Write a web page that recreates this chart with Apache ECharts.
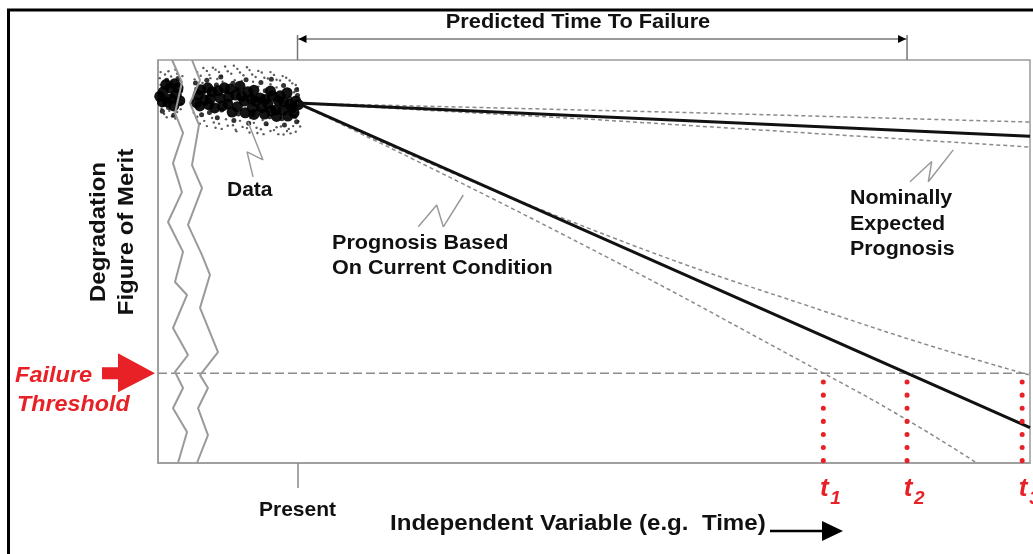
<!DOCTYPE html>
<html><head><meta charset="utf-8">
<script src="https://cdn.jsdelivr.net/npm/echarts@6/dist/echarts.min.js"></script>
<style>html,body{margin:0;padding:0;background:#fff}#c{width:1033px;height:554px}</style>
</head><body><div id="c"></div>
<script>
// ---- data (arbitrary units: x = time 0..100, y = figure of merit 0..100) ----
const presentX = 16;
const thresholdY = 22.3;
const failureTimes = [76.3, 85.9, 99.1];
const failureSubs = ['1', '2', '3'];
const dotTopY = 20.1;

const nominalLine  = [[16, 89.3], [100, 81.1]];
const nominalUpper = [[16, 89.3], [60, 87.0], [100, 84.6]];
const nominalLower = [[16, 89.3], [49.5, 85.3], [100, 78.4]];
const prognosisLine  = [[16, 89.3], [100, 8.8]];
const prognosisUpper = [[16, 89.3], [46.1, 61.0], [80.5, 34.7], [100, 21.8]];
const prognosisLower = [[16, 89.3], [46.1, 57.1], [76.3, 22.3], [85.9, 10.7], [93.9, 0]];
const thresholdLine = [[0, thresholdY], [100, thresholdY]];

const dataCore = [[0.6,92.1],[1.4,93.1],[2.1,91.4],[1.1,89.6],[1.8,88.6],[0.5,89.6],[2.3,93.1],
  [0.2,91.0],[1.5,90.4],[2.5,89.9],[0.9,93.9],[1.9,94.1],
  [4.6,91.3],[5.4,90.1],[6.2,92.1],[7.1,90.6],[8.0,89.1],[8.9,91.3],[9.9,89.8],[10.8,88.1],
  [11.7,90.6],[12.6,89.1],[13.5,87.6],[14.4,89.6],[15.4,88.1],[4.8,88.6],[6.5,88.1],[8.5,87.1],
  [10.3,92.1],[12.2,86.6],[14.0,91.1],[14.9,86.1],[15.8,89.8],[5.7,93.1],[7.6,93.1],[9.4,93.5],
  [11.2,89.8],[13.1,91.1],[4.4,89.4],
  [4.9,92.6],[6.9,92.4],[8.3,92.8],[11.0,92.5],[12.9,92.3],[14.8,91.9],
  [6.0,90.4],[8.1,90.9],[9.6,91.0],[10.7,90.3],[12.3,90.2],[13.8,89.9],[15.1,89.0],[16.1,88.9],
  [5.8,88.9],[7.4,88.6],[9.1,88.4],[11.9,88.2],[13.0,87.4],[14.3,87.5],
  [10.0,86.9],[11.0,86.5],[15.6,86.9],[13.6,86.0]];
const dataMid = [[4.4,92.3],[5.2,91.9],[6.7,93.8],[7.9,92.2],[9.1,92.6],[10.8,91.0],[12.3,92.4],
  [13.7,90.0],[15.1,90.5],[16.0,91.2],[5.9,87.0],[7.3,87.6],[9.2,86.6],[10.9,86.4],[12.8,85.9],
  [14.2,85.4],[15.7,86.0],[11.5,87.9],[13.2,88.0],[0.3,91.4],[1.6,91.2],[2.6,92.4],[1.2,88.2],
  [4.3,94.3],[5.6,95.0],[7.2,95.8],[8.6,94.2],[10.1,95.1],[11.8,94.4],[13.0,95.2],[14.4,93.7],
  [15.9,92.6],[5.0,86.4],[6.8,85.7],[8.7,85.0],[10.4,84.3],[12.4,84.2],[14.5,83.9],[15.9,84.7],
  [1.0,95.0],[2.3,95.4],[0.5,87.3],[1.8,86.3]];
const dataSparse = [[0.2,95.5],[0.8,96.4],[1.5,95.9],[2.2,96.6],[2.6,94.8],[0.3,93.8],[1.9,92.2],
  [0.9,90.8],[2.5,90.2],[0.4,87.9],[1.3,87.4],[2.2,87.1],[1.6,94.5],[0.6,88.9],[2.7,89.1],[1.0,85.8],[2.0,85.5],
  [4.2,95.2],[4.9,96.1],[5.6,97.3],[6.3,98.1],[7.0,97.0],[7.7,98.4],[8.4,96.6],[9.1,97.8],[9.8,96.2],
  [10.5,97.5],[11.2,95.8],[11.9,96.9],[12.6,95.4],[13.3,96.3],[14.0,94.9],[14.7,95.6],[15.4,94.2],
  [16.0,93.0],[6.8,95.3],[8.8,95.0],[10.9,94.6],[12.9,94.0],[15.0,92.7],
  [4.3,93.0],[5.1,94.3],[6.0,95.5],[7.4,94.6],[9.6,94.8],[11.5,93.4],[13.6,93.2],[15.6,92.0],
  [4.1,86.9],[16.2,88.7],[16.0,86.8],[3.9,89.9],
  [4.5,85.9],[5.3,84.9],[6.2,85.6],[7.0,84.2],[7.8,85.3],[8.6,83.8],[9.4,84.9],[10.2,83.1],
  [11.0,84.4],[11.8,82.8],[12.5,83.9],[13.3,82.6],[14.1,83.5],[14.8,82.4],[15.5,83.6],[16.1,84.8],
  [6.6,83.2],[9.0,82.3],[11.4,81.9],[13.8,81.6],[15.2,81.8],[10.6,85.6],[12.0,85.1],[8.2,86.2],
  [4.5,97.0],[5.2,98.0],[5.9,96.3],[6.6,97.6],[7.3,96.1],[8.0,97.2],[8.7,98.6],[9.4,96.9],[10.2,98.2],
  [10.8,96.4],[11.5,97.3],[12.2,95.6],[12.9,97.0],[13.6,95.1],[14.3,96.0],[15.1,94.9],[15.8,93.8],
  [4.8,84.2],[5.6,83.6],[6.4,84.5],[7.3,82.9],[8.0,83.7],[8.9,82.7],[9.7,83.4],[10.5,82.0],[11.3,83.2],
  [12.1,81.6],[12.9,82.4],[13.6,83.3],[14.4,81.5],[15.0,82.9],[15.8,82.2],[16.3,83.5],
  [0.3,97.0],[1.2,97.2],[2.0,97.6],[2.8,96.0],[0.7,86.6],[1.6,86.0],[2.6,87.8]];

const zigLeft = [[1.61,100],[2.75,94.5],[1.95,86.8],[2.87,81.9],[1.72,74.4],[2.75,67.2],[1.15,59.8],
  [2.87,52.4],[1.95,44.9],[3.33,41.7],[1.72,33.5],[3.44,26.8],[1.95,22.6],[2.87,18.6],[1.72,13.6],[3.33,7.7],[2.29,0]];
const zigRight = [[3.90,100],[4.82,95.0],[3.67,89.3],[4.70,83.9],[3.90,73.9],[5.05,68.2],[3.44,59.1],
  [5.05,51.6],[5.96,46.7],[4.82,38.5],[6.88,27.5],[4.82,21.8],[5.73,18.6],[4.59,13.6],[5.73,6.9],[4.47,0]];

const leaderData = [[10.32,84.6],[12.04,75.2],[10.21,77.2],[10.9,71.0]];
const leaderPrognosis = [[29.85,58.6],[31.96,64.0],[32.72,58.6],[35.01,66.5]];
const leaderNominal = [[86.24,69.8],[88.73,74.8],[88.34,69.8],[91.2,77.7]];

const FONT = '"Liberation Sans", Arial, sans-serif';
const RED = '#e82127';
const GRAY = '#9a9a9a';

function lineSeries(data, color, width, type, smooth, z) {
  return { type: 'line', data: data, symbol: 'none', smooth: !!smooth, silent: true, z: z || 3,
    lineStyle: { color: color, width: width, type: type || 'solid' } };
}

const series = [
  { type: 'scatter', data: dataSparse, symbolSize: 2.4, itemStyle: { color: '#333' }, silent: true, z: 2 },
  { type: 'scatter', data: dataMid, symbolSize: 5, itemStyle: { color: '#111', opacity: 0.85 }, silent: true, z: 2 },
  { type: 'scatter', data: dataCore, symbolSize: 11, itemStyle: { color: '#000', opacity: 0.92 }, silent: true, z: 2 },
  lineSeries(thresholdLine, '#8c8c8c', 1.5, [9, 4]),
  lineSeries(nominalUpper, '#8a8a8a', 1.5, [4, 3]),
  lineSeries(nominalLower, '#8a8a8a', 1.5, [4, 3]),
  lineSeries(prognosisUpper, '#8a8a8a', 1.5, [4, 3], true),
  lineSeries(prognosisLower, '#8a8a8a', 1.5, [4, 3], true),
  lineSeries(nominalLine, '#111', 3),
  lineSeries(prognosisLine, '#111', 3),
  lineSeries(zigLeft, GRAY, 2, 'solid', false, 4),
  lineSeries(zigRight, GRAY, 2, 'solid', false, 4),
  lineSeries(leaderData, GRAY, 1.5),
  lineSeries(leaderPrognosis, GRAY, 1.5),
  lineSeries(leaderNominal, GRAY, 1.5)
];
failureTimes.forEach(function (t) {
  series.push({ type: 'line', data: [[t, dotTopY], [t, 0]], symbol: 'none', silent: true, z: 5,
    lineStyle: { color: RED, width: 5, type: [0.1, 13], cap: 'round' } });
});

const option = {
  animation: false,
  backgroundColor: '#fff',
  grid: { left: 158, right: 3, top: 60, bottom: 91, show: true, borderColor: GRAY, borderWidth: 1.5 },
  xAxis: {
    type: 'value', min: 0, max: 100,
    axisLine: { show: true, onZero: false, lineStyle: { color: GRAY, width: 1.5 } },
    axisTick: { show: true, customValues: [presentX], length: 25, lineStyle: { color: '#888', width: 1.5 } },
    axisLabel: { show: true, customValues: [presentX], formatter: function (v) { return v === presentX ? 'Present' : ''; },
      margin: 37, fontSize: 21, fontWeight: 'bold', color: '#111', fontFamily: FONT },
    splitLine: { show: false }
  },
  yAxis: {
    type: 'value', min: 0, max: 100,
    axisLine: { show: true, lineStyle: { color: GRAY, width: 1.5 } },
    axisTick: { show: false }, axisLabel: { show: false }, splitLine: { show: false }
  },
  series: series
};

const chart = echarts.init(document.getElementById('c'));
chart.setOption(option);

const px = function (p) { return chart.convertToPixel({ gridIndex: 0 }, p); };
const pPresent = px([presentX, 100]);
const pT2 = px([failureTimes[1], 100]);
const pThr = px([0, thresholdY]);
const bracketY = 39;

function txt(text, x, y, font, color, align, sx, rot) {
  return { type: 'text', silent: true, z: 10, x: x, y: y, scaleX: sx || 1, rotation: rot || 0,
    style: { text: text, x: 0, y: 0, font: font, fill: color || '#111',
      textAlign: align || 'left', textVerticalAlign: 'middle' } };
}
const B20 = 'bold 20px ' + FONT;
const B22 = 'bold 22px ' + FONT;
const RB22 = 'italic bold 22px ' + FONT;
const S = 1.08;

const graphic = [
  { type: 'rect', silent: true, shape: { x: 8.5, y: 10, width: 1040, height: 560 },
    style: { fill: 'none', stroke: '#000', lineWidth: 3 } },
  // bracket
  { type: 'line', silent: true, shape: { x1: pPresent[0], y1: bracketY, x2: pT2[0], y2: bracketY }, style: { stroke: '#777', lineWidth: 1.5 } },
  { type: 'line', silent: true, shape: { x1: pPresent[0], y1: 35, x2: pPresent[0], y2: pPresent[1] }, style: { stroke: '#777', lineWidth: 1.5 } },
  { type: 'line', silent: true, shape: { x1: pT2[0], y1: 35, x2: pT2[0], y2: pT2[1] }, style: { stroke: '#777', lineWidth: 1.5 } },
  { type: 'polygon', silent: true, shape: { points: [[pPresent[0] + 1, bracketY], [pPresent[0] + 9, bracketY - 4], [pPresent[0] + 9, bracketY + 4]] }, style: { fill: '#000' } },
  { type: 'polygon', silent: true, shape: { points: [[pT2[0] - 1, bracketY], [pT2[0] - 9, bracketY - 4], [pT2[0] - 9, bracketY + 4]] }, style: { fill: '#000' } },
  txt('Predicted Time To Failure', 578, 22, B20, '#111', 'center', 1.09),
  // y axis title (two lines, rotated)
  txt('Degradation', 99, 232, B22, '#111', 'center', 1.09, Math.PI / 2),
  txt('Figure of Merit', 127, 232, B22, '#111', 'center', 1.09, Math.PI / 2),
  // annotations
  txt('Data', 227, 190, B20, '#111', 'left', 1.05),
  txt('Prognosis Based', 332, 243, B20, '#111', 'left', S),
  txt('On Current Condition', 332, 268, B20, '#111', 'left', S),
  txt('Nominally', 850, 198, B20, '#111', 'left', 1.07),
  txt('Expected', 850, 224, B20, '#111', 'left', 1.07),
  txt('Prognosis', 850, 249, B20, '#111', 'left', 1.07),
  // failure threshold
  txt('Failure', 15, 376, RB22, RED, 'left', 1.07),
  txt('Threshold', 17, 405, RB22, RED, 'left', 1.06),
  { type: 'polygon', silent: true, shape: { points: [[102, pThr[1] - 6], [118, pThr[1] - 6], [118, pThr[1] - 20], [155, pThr[1]], [118, pThr[1] + 19], [118, pThr[1] + 6], [102, pThr[1] + 6]] }, style: { fill: RED } },
  // bottom axis title
  txt('Independent Variable (e.g.  Time)', 390, 524, B22, '#111', 'left', 1.095),
  { type: 'line', silent: true, shape: { x1: 770, y1: 531, x2: 826, y2: 531 }, style: { stroke: '#000', lineWidth: 2.5 } },
  { type: 'polygon', silent: true, shape: { points: [[822, 521], [843, 531], [822, 541]] }, style: { fill: '#000' } }
];
failureTimes.forEach(function (t, i) {
  const p = px([t, 0]);
  graphic.push(txt('t', p[0] + 1, 489, 'italic bold 26px ' + FONT, RED, 'center'));
  graphic.push(txt(failureSubs[i], p[0] + 7, 499, 'italic bold 19px ' + FONT, RED, 'left'));
});
chart.setOption({ graphic: graphic });
</script>
</body></html>
